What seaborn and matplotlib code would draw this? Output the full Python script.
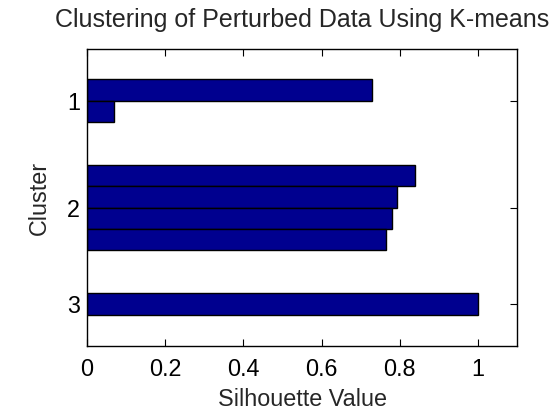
import numpy as np
import pandas as pd
import matplotlib
matplotlib.use("Agg")
import matplotlib.pyplot as plt
import seaborn as sns

# Silhouette values per cluster (sorted descending within each cluster)
cluster_ids = [1, 1, 2, 2, 2, 2, 3]
silhouette = [0.730, 0.069, 0.839, 0.794, 0.779, 0.766, 1.000]
cluster_labels = ["1", "2", "3"]
x_ticks = [0, 0.2, 0.4, 0.6, 0.8, 1]
x_tick_labels = ["0", "0.2", "0.4", "0.6", "0.8", "1"]
title = "Clustering of Perturbed Data Using K-means"
xlabel = "Silhouette Value"
ylabel = "Cluster"

# MATLAB silhouette-style bar positions: gap of `space` empty slots around clusters
space = 2
positions = []
tick_pos = []
idx = space
for c in sorted(set(cluster_ids)):
    members = [i for i, cid in enumerate(cluster_ids) if cid == c]
    start = idx + 1
    for _ in members:
        idx += 1
        positions.append(idx)
    tick_pos.append((start + idx) / 2)
    idx += space

df = pd.DataFrame({"pos": positions, "sil": silhouette, "cluster": cluster_ids})

sns.set_style("white")
plt.rcParams["font.family"] = ["Liberation Sans", "DejaVu Sans"]

fig = plt.figure(figsize=(5.52, 4.12), dpi=100)
ax = fig.add_axes([87 / 552, 1 - 346 / 412, (517 - 87) / 552, (346 - 49) / 412])

sns.barplot(data=df, x="sil", y="pos", orient="h", native_scale=True,
            width=1.0, color="#00008F", saturation=1, edgecolor="black",
            linewidth=1.0, errorbar=None, ax=ax)

ax.set_xlim(0, 1.1)
ax.set_ylim(14.97, 1.08)
ax.set_xticks(x_ticks)
ax.set_xticklabels(x_tick_labels)
ax.set_yticks(tick_pos)
ax.set_yticklabels(cluster_labels)

fs = 16.8
ax.tick_params(axis="both", direction="in", length=5, width=0.8, colors="black",
               labelsize=fs, top=True, right=True, bottom=True, left=True)
ax.tick_params(axis="x", pad=9)
ax.tick_params(axis="y", pad=5)
for s in ax.spines.values():
    s.set_visible(True)
    s.set_color("black")
    s.set_linewidth(1.0)

ax.set_title(title, fontsize=18, pad=16)
ax.set_xlabel(xlabel, fontsize=fs, labelpad=5)
ax.set_ylabel(ylabel, fontsize=fs, labelpad=12)

fig.savefig("out.png", dpi=100)
